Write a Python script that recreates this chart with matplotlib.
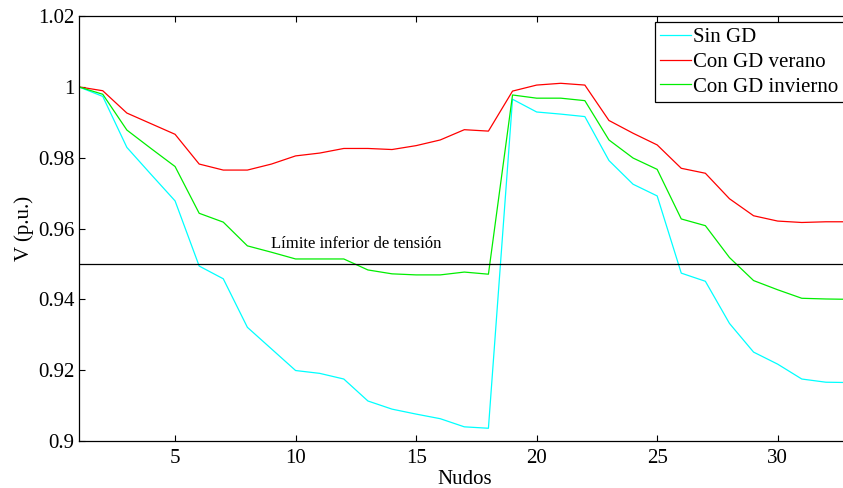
import numpy as np
import matplotlib.pyplot as plt

plt.rcParams['font.family'] = ['Liberation Serif', 'DejaVu Serif']

nudos = np.arange(1, 34)

sin_gd = [1.0000, 0.9973, 0.9829, 0.9753, 0.9678, 0.9494, 0.9458, 0.9321, 0.9260, 0.9199,
          0.9191, 0.9175, 0.9113, 0.9090, 0.9076, 0.9063, 0.9040, 0.9036, 0.9965, 0.9929,
          0.9923, 0.9916, 0.9792, 0.9725, 0.9692, 0.9474, 0.9451, 0.9332, 0.9251, 0.9217,
          0.9175, 0.9166, 0.9165]

gd_verano = [1.0000, 0.9989, 0.9926, 0.9896, 0.9866, 0.9782, 0.9765, 0.9765, 0.9782, 0.9805,
             0.9813, 0.9826, 0.9826, 0.9823, 0.9834, 0.9850, 0.9879, 0.9875, 0.9988, 1.0005,
             1.0010, 1.0005, 0.9905, 0.9869, 0.9836, 0.9770, 0.9756, 0.9684, 0.9636, 0.9621,
             0.9617, 0.9619, 0.9619]

gd_invierno = [1.0000, 0.9979, 0.9878, 0.9826, 0.9775, 0.9643, 0.9618, 0.9551, 0.9533, 0.9514,
               0.9514, 0.9514, 0.9483, 0.9472, 0.9469, 0.9469, 0.9477, 0.9471, 0.9977, 0.9968,
               0.9968, 0.9961, 0.9850, 0.9799, 0.9767, 0.9627, 0.9608, 0.9518, 0.9453, 0.9427,
               0.9403, 0.9401, 0.9400]

v_min = 0.95

fig = plt.figure(figsize=(8.43, 4.88), dpi=100)
ax = fig.add_axes([0.0933, 0.0963, 0.915, 0.8709])

ax.plot(nudos, sin_gd, color='#00ffff', lw=0.9, label='Sin GD')
ax.plot(nudos, gd_verano, color='#ff0000', lw=0.9, label='Con GD verano')
ax.plot(nudos, gd_invierno, color='#00ee00', lw=0.9, label='Con GD invierno')
ax.axhline(v_min, color='black', lw=0.9)
ax.text(9, 0.9557, 'Límite inferior de tensión', fontsize=12, va='center', ha='left')

ax.set_xlim(1, 33)
ax.set_ylim(0.9, 1.02)
ax.set_xticks([5, 10, 15, 20, 25, 30])
ax.set_yticks([0.9, 0.92, 0.94, 0.96, 0.98, 1.0, 1.02])
ax.set_yticklabels(['0.9', '0.92', '0.94', '0.96', '0.98', '1', '1.02'])
ax.tick_params(direction='in', top=True, right=True, labelsize=15, length=4, width=0.8, pad=3)
ax.tick_params(axis='x', pad=6)
for s in ax.spines.values():
    s.set_linewidth(0.9)

ax.set_xlabel('Nudos', fontsize=15, labelpad=1)
ax.set_ylabel('V (p.u.)', fontsize=15, labelpad=3)

leg = ax.legend(loc='upper right', fontsize=15, handlelength=1.5, handletextpad=0.1,
                borderaxespad=0.3, borderpad=0.25, labelspacing=0.25, fancybox=False,
                framealpha=1)
leg.get_frame().set_edgecolor('black')
leg.get_frame().set_linewidth(0.9)

fig.savefig('out.png', dpi=100)
